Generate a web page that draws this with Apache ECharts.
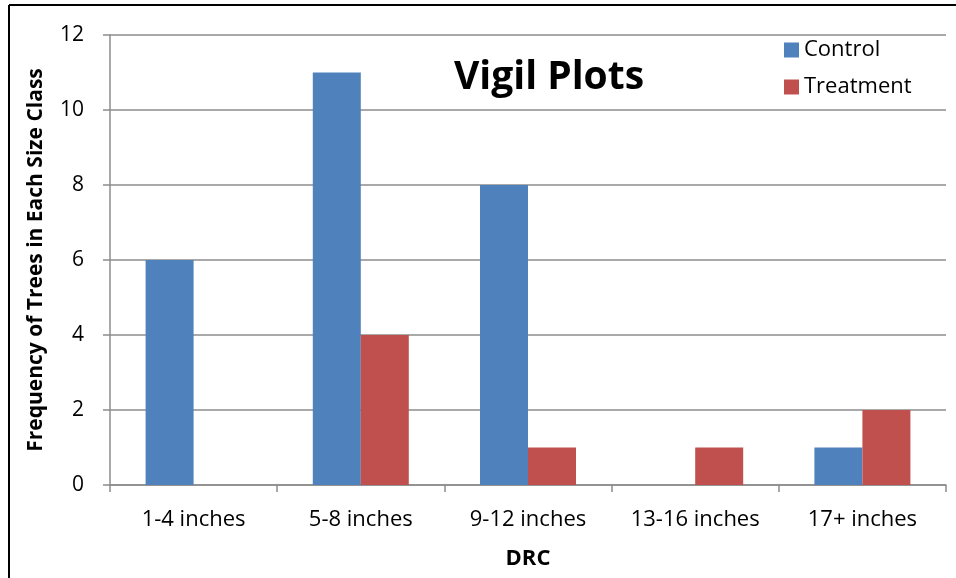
<!DOCTYPE html>
<html><head><meta charset="utf-8">
<script src="https://cdn.jsdelivr.net/npm/echarts@6/dist/echarts.min.js"></script>
<style>html,body{margin:0;padding:0;background:#fff;}#c{width:956px;height:578px;}</style>
</head><body><div id="c"></div>
<script>
const categories = ['1-4 inches', '5-8 inches', '9-12 inches', '13-16 inches', '17+ inches'];
const controlValues = [6, 11, 8, 0, 1];
const treatmentValues = [0, 4, 1, 1, 2];
const yTicks = [0, 2, 4, 6, 8, 10, 12];

const FONT = '"Open Sans", "Noto Sans", sans-serif';
const chart = echarts.init(document.getElementById('c'), null, {renderer: 'canvas'});
chart.setOption({
  animation: false,
  backgroundColor: '#fff',
  textStyle: {fontFamily: FONT},
  title: {
    text: 'Vigil Plots', left: 544, top: 53, textAlign: 'center',
    textStyle: {fontSize: 39, fontWeight: 'bold', color: '#000', fontFamily: FONT}
  },
  legend: {
    orient: 'vertical', left: 779, top: 34, itemWidth: 15, itemHeight: 15, itemGap: 15,
    icon: 'rect',
    textStyle: {fontSize: 22, color: '#000', fontFamily: FONT},
    data: ['Control', 'Treatment']
  },
  graphic: [
    {type: 'line', shape: {x1: 9, y1: 5, x2: 960, y2: 5}, style: {stroke: '#000', lineWidth: 2}},
    {type: 'line', shape: {x1: 9, y1: 5, x2: 9, y2: 600}, style: {stroke: '#000', lineWidth: 2}}
  ],
  grid: {left: 110, right: 10, top: 35, bottom: 93, containLabel: false},
  xAxis: {
    type: 'category', data: categories,
    name: 'DRC', nameLocation: 'middle', nameGap: 63,
    nameTextStyle: {fontSize: 22, fontWeight: 'bold', color: '#000', fontFamily: FONT},
    axisLine: {lineStyle: {color: '#8c8c8c', width: 1.5}},
    axisTick: {show: true, alignWithLabel: false, length: 7, lineStyle: {color: '#8c8c8c', width: 1.5}},
    axisLabel: {fontSize: 22, color: '#000', margin: 24, interval: 0, hideOverlap: false, fontFamily: FONT}
  },
  yAxis: {
    type: 'value', min: yTicks[0], max: yTicks[yTicks.length - 1], interval: 2,
    name: 'Frequency of Trees in Each Size Class', nameLocation: 'middle', nameGap: 63, nameRotate: 90,
    nameTextStyle: {fontSize: 21, fontWeight: 'bold', color: '#000', fontFamily: FONT},
    axisLine: {show: true, lineStyle: {color: '#8c8c8c', width: 1.5}},
    axisTick: {show: true, length: 7, lineStyle: {color: '#8c8c8c', width: 1.5}},
    axisLabel: {fontSize: 21, color: '#000', margin: 26, fontFamily: FONT},
    splitLine: {show: true, lineStyle: {color: '#8c8c8c', width: 1.5}}
  },
  series: [
    {name: 'Control', type: 'bar', data: controlValues, barWidth: 48, barGap: '0%',
     itemStyle: {color: '#4f81bd'}},
    {name: 'Treatment', type: 'bar', data: treatmentValues, barWidth: 48, barGap: '0%',
     itemStyle: {color: '#c0504d'}}
  ]
});
</script></body></html>
